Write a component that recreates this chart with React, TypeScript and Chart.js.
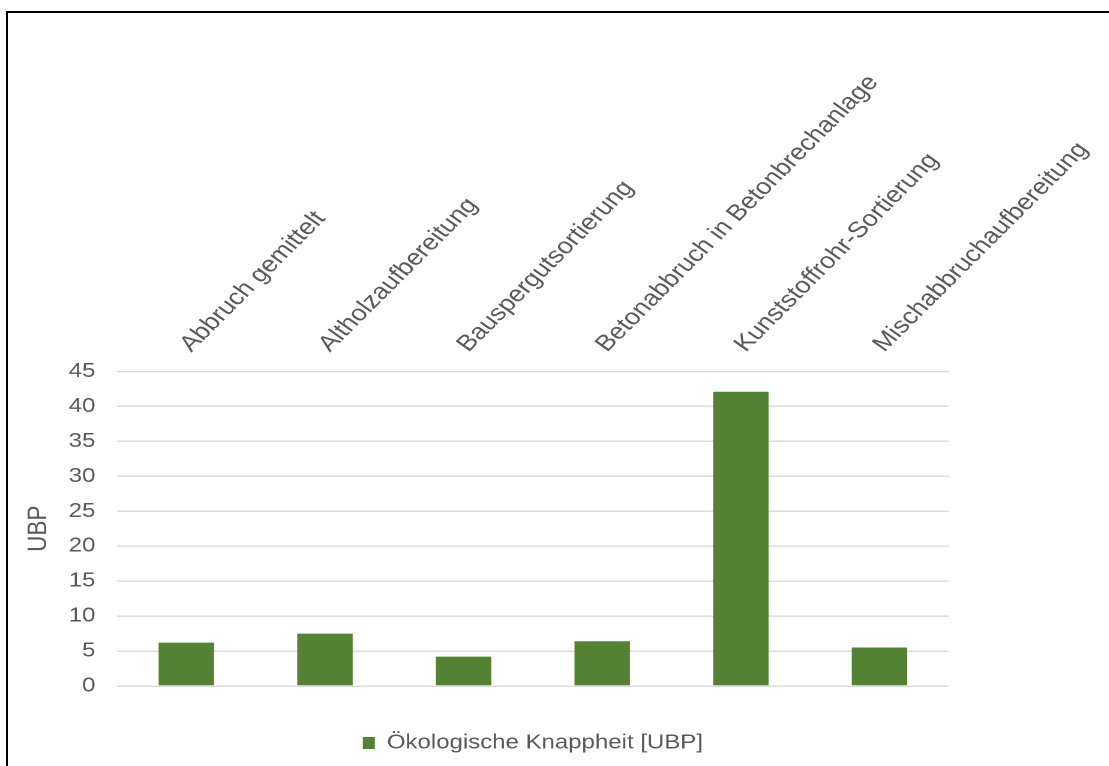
import React, { useEffect, useRef } from "react";
import { Chart, registerables } from "chart.js";

Chart.register(...registerables);

const categories = [
  "Abbruch gemittelt",
  "Altholzaufbereitung",
  "Bauspergutsortierung",
  "Betonabbruch in Betonbrechanlage",
  "Kunststoffrohr-Sortierung",
  "Mischabbruchaufbereitung",
];
const seriesLabel = "Ökologische Knappheit [UBP]";
const seriesValues = [6.2, 7.5, 4.2, 6.4, 42.1, 5.5];
const yTitle = "UBP";
const yMin = 0;
const yMax = 45;
const yStep = 5;

const STRETCH = 1.2;
const W = 1109;
const H = 766;
const CW = W / STRETCH;

const FONT = "'Liberation Sans', Arial, sans-serif";
const TEXT = "#595959";
const GREEN = "#548235";
const GRID = "#d9d9d9";

export default function App() {
  const ref = useRef<HTMLCanvasElement | null>(null);

  useEffect(() => {
    if (!ref.current) return;
    const chart = new Chart(ref.current, {
      type: "bar",
      data: {
        labels: categories,
        datasets: [
          {
            label: seriesLabel,
            data: seriesValues,
            backgroundColor: GREEN,
            borderWidth: 0,
            categoryPercentage: 1,
            barPercentage: 0.4,
          },
        ],
      },
      options: {
        animation: false,
        responsive: false,
        devicePixelRatio: 2,
        layout: { padding: { left: 0, top: 0, right: CW - 949 / STRETCH, bottom: 3 } },
        plugins: {
          tooltip: { enabled: false },
          legend: {
            position: "bottom",
            fullSize: false,
            labels: {
              color: TEXT,
              font: { family: FONT, size: 20 },
              boxWidth: 10,
              boxHeight: 12,
              padding: 47,
            },
          },
        },
        scales: {
          x: {
            position: "top",
            grid: { display: false, drawTicks: false },
            border: { display: false },
            ticks: {
              color: TEXT,
              font: { family: FONT, size: 22.5 },
              minRotation: 50,
              maxRotation: 50,
              autoSkip: false,
              padding: 14,
              labelOffset: 20,
            },
            afterFit: (scale: any) => {
              scale.height = 371.5;
              scale.paddingLeft = 0;
              scale.paddingRight = 0;
            },
          },
          y: {
            min: yMin,
            max: yMax,
            grid: { color: GRID, lineWidth: 1.4, drawTicks: false },
            border: { display: false },
            ticks: {
              stepSize: yStep,
              color: TEXT,
              font: { family: FONT, size: 20 },
              padding: 18,
            },
            title: {
              display: true,
              text: yTitle,
              color: TEXT,
              font: { family: FONT, size: 22.5 },
              padding: { top: 19, bottom: 0 },
            },
            afterFit: (scale: any) => {
              scale.width = 117 / STRETCH;
            },
          },
        },
      },
    });
    return () => chart.destroy();
  }, []);

  return (
    <div
      style={{
        position: "fixed",
        left: 0,
        top: 0,
        width: W,
        height: H,
        overflow: "hidden",
        background: "#ffffff",
      }}
    >
      <canvas
        ref={ref}
        width={CW}
        height={H}
        style={{
          position: "absolute",
          left: 0,
          top: 0,
          width: CW,
          height: H,
          transform: `scaleX(${STRETCH})`,
          transformOrigin: "0 0",
        }}
      />
      <div
        style={{
          position: "absolute",
          left: 6,
          top: 11,
          width: W + 50,
          height: H + 50,
          borderLeft: "2px solid #000",
          borderTop: "2px solid #000",
          pointerEvents: "none",
        }}
      />
    </div>
  );
}
